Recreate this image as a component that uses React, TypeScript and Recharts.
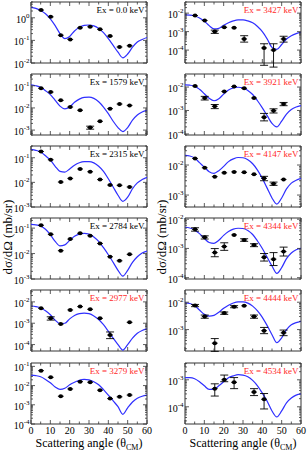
import React from 'react';
import { ComposedChart, Line, Scatter, XAxis, YAxis, ErrorBar, ReferenceArea } from 'recharts';

// angles (deg, CM) at which the DWBA curves are sampled
const CURVE_X = [0, 2.5, 5, 7.5, 10, 12.5, 15, 17.5, 20, 22.5, 25, 27.5, 30, 32.5, 35, 37.5, 40, 42.5, 45, 47.5, 50, 52.5, 55, 57.5, 60];
// measured angles
const ANGLES = [5.2, 10.2, 15.4, 20.3, 25.4, 30.6, 35.7, 40.9, 45.8, 51.0];
const X_ERR = 1.5;
const X_TICKS = [0, 5, 10, 15, 20, 25, 30, 35, 40, 45, 50, 55, 60];

// Ex = 0.0 keV
const curve0 = [2.9, 2.6, 2.1, 1.5, 0.9, 0.45, 0.2, 0.12, 0.15, 0.26, 0.38, 0.46, 0.48, 0.44, 0.34, 0.22, 0.12, 0.06, 0.03, 0.017, 0.025, 0.05, 0.085, 0.11, 0.135];
const pts0 = [2.2, 1.1, 0.17, 0.11, 0.36, 0.4, 0.31, 0.155, 0.051, 0.058];
const err0 = [null, null, null, null, null, null, null, null, null, null];

// Ex = 1579 keV
const curve1 = [0.11, 0.1, 0.085, 0.06, 0.04, 0.022, 0.012, 0.009, 0.011, 0.018, 0.025, 0.03, 0.031, 0.027, 0.019, 0.011, 0.0055, 0.0025, 0.0013, 0.00085, 0.0013, 0.0028, 0.0048, 0.0065, 0.0077];
const pts1 = [0.077, 0.052, 0.022, 0.011, 0.0079, 0.0013, 0.0025, 0.0093, 0.015, 0.013];
const err1 = [null, null, null, null, null, [0.0002, 0.0002], null, null, null, null];

// Ex = 2315 keV
const curve2 = [0.22, 0.2, 0.17, 0.12, 0.08, 0.045, 0.028, 0.026, 0.035, 0.05, 0.063, 0.07, 0.07, 0.062, 0.045, 0.028, 0.014, 0.0065, 0.003, 0.0017, 0.0025, 0.0055, 0.0095, 0.013, 0.016];
const pts2 = [0.18, 0.083, 0.0103, 0.0145, 0.035, 0.027, 0.013, 0.0078, 0.0076, 0.0065];
const err2 = [null, null, null, null, null, null, null, null, null, null];

// Ex = 2784 keV
const curve3 = [0.14, 0.135, 0.12, 0.09, 0.055, 0.03, 0.02, 0.022, 0.033, 0.048, 0.058, 0.062, 0.058, 0.045, 0.03, 0.017, 0.009, 0.0045, 0.0022, 0.0013, 0.0022, 0.0045, 0.0075, 0.0105, 0.0126];
const pts3 = [0.13, 0.057, 0.013, 0.037, 0.063, 0.05, 0.025, 0.0075, 0.0052, 0.0093];
const err3 = [null, null, null, null, null, null, null, null, null, null];

// Ex = 2977 keV
const curve4 = [0.0064, 0.006, 0.0052, 0.0038, 0.0025, 0.0014, 0.00095, 0.001, 0.0016, 0.0023, 0.0028, 0.003, 0.0028, 0.0022, 0.0015, 0.00085, 0.00042, 0.0002, 0.0001, 0.000055, 0.0001, 0.0002, 0.00034, 0.00046, 0.00054];
const pts4 = [0.005, 0.0017, 0.00091, 0.0042, 0.006, 0.0045, 0.0017, 0.00028, null, 0.0011];
const err4 = [null, [0.0003, 0.0003], null, null, null, null, null, [0.00009, 0.00011], null, null];

// Ex = 3279 keV
const curve5 = [0.035, 0.033, 0.029, 0.021, 0.014, 0.0085, 0.0063, 0.0072, 0.011, 0.015, 0.019, 0.021, 0.02, 0.016, 0.011, 0.0062, 0.0032, 0.0016, 0.0008, 0.00032, 0.0007, 0.0014, 0.0022, 0.0028, 0.0032];
const pts5 = [0.06, 0.027, 0.0028, 0.0067, 0.016, 0.015, 0.0058, 0.0021, 0.0026, 0.0032];
const err5 = [null, null, null, null, null, null, null, null, null, null];

// Ex = 3427 keV
const curve6 = [0.008, 0.0078, 0.007, 0.0055, 0.0037, 0.0021, 0.0014, 0.0015, 0.0022, 0.003, 0.0038, 0.0043, 0.0043, 0.0038, 0.003, 0.0019, 0.001, 0.0004, 0.00014, 0.00011, 0.0002, 0.0004, 0.0006, 0.00078, 0.0009];
const pts6 = [0.0074, 0.004, 0.001, 0.0017, 0.0016, 0.0004, null, 0.00013, 0.0001, 0.0004];
const err6 = [null, null, [0.0002, 0.0002], null, null, [0.00013, 0.0002], null, [0.000115, 0.00009], [0.000088, 0.00012], [0.00013, 0.00016]];

// Ex = 3921 keV
const curve7 = [0.0123, 0.012, 0.011, 0.008, 0.0052, 0.0033, 0.0026, 0.0032, 0.005, 0.0074, 0.0092, 0.0098, 0.0092, 0.0072, 0.0048, 0.0026, 0.0013, 0.0006, 0.00028, 0.0002, 0.00035, 0.0007, 0.0011, 0.0014, 0.0016];
const pts7 = [0.011, 0.0034, 0.0015, 0.0065, 0.0105, 0.0089, 0.0034, 0.00052, 0.00098, 0.0019];
const err7 = [null, [0.0006, 0.0006], [0.0003, 0.0003], null, null, null, null, [0.00016, 0.00023], [0.0002, 0.0002], [0.0003, 0.0003]];

// Ex = 4147 keV
const curve8 = [0.021, 0.02, 0.017, 0.012, 0.0085, 0.006, 0.0053, 0.0065, 0.009, 0.013, 0.016, 0.0178, 0.0175, 0.015, 0.011, 0.0068, 0.0036, 0.0017, 0.0008, 0.0005, 0.0008, 0.0016, 0.0025, 0.0031, 0.0036];
const pts8 = [0.0166, 0.0081, 0.0041, 0.0055, 0.0059, 0.0057, 0.0049, 0.0036, 0.0024, 0.0033];
const err8 = [null, null, null, null, null, null, null, [0.0006, 0.0006], [0.0003, 0.0003], null];

// Ex = 4344 keV
const curve9 = [0.0053, 0.005, 0.0043, 0.0032, 0.0022, 0.0016, 0.0015, 0.0019, 0.0028, 0.0038, 0.0046, 0.0049, 0.0048, 0.0041, 0.003, 0.0018, 0.001, 0.0005, 0.00025, 0.00014, 0.00022, 0.00045, 0.0007, 0.0009, 0.001];
const pts9 = [0.0045, 0.0024, 0.00072, 0.00116, 0.0029, 0.00195, 0.0013, 0.0005, 0.00043, 0.00078];
const err9 = [[0.0006, 0.0006], [0.0003, 0.0003], [0.0002, 0.00027], [0.0003, 0.0004], null, [0.0002, 0.0002], [0.00015, 0.00015], [0.00013, 0.00017], [0.00017, 0.00029], [0.00023, 0.00033]];

// Ex = 4444 keV
const curve10 = [0.0095, 0.009, 0.0075, 0.0052, 0.0036, 0.0031, 0.0033, 0.0043, 0.006, 0.0078, 0.0094, 0.0103, 0.0103, 0.0093, 0.0072, 0.0048, 0.0028, 0.0014, 0.00065, 0.00033, 0.0005, 0.001, 0.0015, 0.0018, 0.002];
const pts10 = [0.0076, 0.003, 0.00032, 0.004, 0.0069, 0.0074, 0.003, 0.00091, null, 0.00076];
const err10 = [[0.0007, 0.0007], [0.0004, 0.0004], [0.00016, 0.00015], [0.0004, 0.0004], [0.0006, 0.0006], null, [0.0004, 0.0004], [0.0002, 0.00029], null, [0.00016, 0.0002]];

// Ex = 4534 keV
const curve11 = [0.0012, 0.0012, 0.0011, 0.00085, 0.0006, 0.00044, 0.00045, 0.0006, 0.00085, 0.0012, 0.0014, 0.00155, 0.0015, 0.0013, 0.00095, 0.0006, 0.00032, 0.00016, 0.00007, 0.000042, 0.00007, 0.00014, 0.00021, 0.00027, 0.0003];
const pts11 = [null, null, 0.00047, 0.001, 0.00081, null, 0.00035, 0.00019, null, null];
const err11 = [null, null, [0.00022, 0.00024], [0.00015, 0.0005], [0.00034, 0.0004], null, [0.00009, 0.00012], [0.000107, 0.00012], null, null];

const PANELS = [
  { ex: '0.0', red: false, domain: [0.01, 5], curve: curve0, pts: pts0, err: err0 },
  { ex: '1579', red: false, domain: [6e-4, 0.34], curve: curve1, pts: pts1, err: err1 },
  { ex: '2315', red: false, domain: [1e-3, 0.3], curve: curve2, pts: pts2, err: err2 },
  { ex: '2784', red: false, domain: [1e-3, 0.25], curve: curve3, pts: pts3, err: err3 },
  { ex: '2977', red: true, domain: [5e-5, 0.036], curve: curve4, pts: pts4, err: err4 },
  { ex: '3279', red: true, domain: [1e-4, 0.15], curve: curve5, pts: pts5, err: err5 },
  { ex: '3427', red: true, domain: [2e-5, 0.04], curve: curve6, pts: pts6, err: err6 },
  { ex: '3921', red: true, domain: [9e-5, 0.036], curve: curve7, pts: pts7, err: err7 },
  { ex: '4147', red: true, domain: [4e-4, 0.043], curve: curve8, pts: pts8, err: err8 },
  { ex: '4344', red: true, domain: [9e-5, 0.011], curve: curve9, pts: pts9, err: err9 },
  { ex: '4444', red: true, domain: [1.65e-4, 0.028], curve: curve10, pts: pts10, err: err10 },
  { ex: '4534', red: true, domain: [2.3e-5, 0.0042], curve: curve11, pts: pts11, err: err11 },
];

// layout
const COL_X = [31, 185];
const ROW_Y = [2, 74, 146, 218, 290, 363];
const PW = 116;
const PH = 61;
const AXIS_W = 31;
const PAD = 6;
const FONT = '"Liberation Serif", "Times New Roman", serif';
const RED = '#ff2a2a';
const BLUE = '#2f2fff';
const FRAME = '#333';

function logTicks(lo: number, hi: number) {
  const out: number[] = [];
  for (let e = Math.floor(Math.log10(lo)); e <= Math.ceil(Math.log10(hi)); e++) {
    for (let d = 1; d <= 9; d++) {
      const v = d * Math.pow(10, e);
      if (v >= lo * 0.999 && v <= hi * 1.001) out.push(v);
    }
  }
  return out;
}

function YTick(props: any) {
  const { x, y, payload } = props;
  const lg = Math.log10(payload.value);
  const e = Math.round(lg);
  const major = Math.abs(lg - e) < 1e-6;
  const len = major ? 4 : 2;
  return (
    <g>
      <line x1={x} x2={x + len} y1={y} y2={y} stroke={FRAME} strokeWidth={0.8} />
      <line x1={x + PW - len} x2={x + PW} y1={y} y2={y} stroke={FRAME} strokeWidth={0.8} />
      {major && (
        <text x={x - 1.5} y={y + 5} textAnchor="end" fontSize={10} fill="#000" fontFamily={FONT}>
          10<tspan dy={-5} fontSize={7}>{String(e)}</tspan>
        </text>
      )}
    </g>
  );
}

function makeXTick(showLabels: boolean) {
  return (props: any) => {
    const { x, y, payload } = props;
    const v = payload.value;
    const major = v % 10 === 0;
    const len = major ? 4 : 2.5;
    return (
      <g>
        <line x1={x} x2={x} y1={y} y2={y - len} stroke={FRAME} strokeWidth={0.8} />
        <line x1={x} x2={x} y1={y - PH} y2={y - PH + len} stroke={FRAME} strokeWidth={0.8} />
        {showLabels && major && (
          <text x={x} y={y + 9.5} textAnchor="middle" fontSize={10} fill="#000" fontFamily={FONT}>
            {v}
          </text>
        )}
      </g>
    );
  };
}

const Dot = (props: any) => {
  const { cx, cy } = props;
  if (cx == null || cy == null) return null;
  return <ellipse cx={cx} cy={cy} rx={2.3} ry={2} fill="#000" />;
};

function Panel({ p, col, row }: { p: any; col: number; row: number }) {
  const bottom = row === ROW_Y.length - 1;
  const xh = bottom ? 16 : 9;
  const [lo, hi] = p.domain;
  const curveData = CURVE_X.map((x, i) => ({ x, y: p.curve[i] }));
  const ptData = ANGLES.map((x, i) => ({ x, y: p.pts[i], ex: X_ERR, ey: p.err[i] })).filter((d) => d.y != null);
  return (
    <div style={{ position: 'absolute', left: COL_X[col] - AXIS_W, top: ROW_Y[row] - PAD }}>
      <ComposedChart
        width={AXIS_W + PW + PAD}
        height={PAD + PH + xh}
        margin={{ top: PAD, right: PAD, bottom: 0, left: 0 }}
      >
        <XAxis
          type="number"
          dataKey="x"
          domain={[0, 60]}
          ticks={X_TICKS}
          interval={0}
          allowDataOverflow
          axisLine={false}
          tickLine={false}
          tickSize={0}
          tickMargin={0}
          height={xh}
          tick={makeXTick(bottom)}
        />
        <YAxis
          type="number"
          scale="log"
          domain={[lo, hi]}
          ticks={logTicks(lo, hi)}
          interval={0}
          allowDataOverflow
          axisLine={false}
          tickLine={false}
          tickSize={0}
          tickMargin={0}
          width={AXIS_W}
          tick={YTick}
        />
        <ReferenceArea x1={0} x2={60} y1={lo} y2={hi} fill="none" stroke={FRAME} strokeWidth={1} ifOverflow="visible" />
        <Line
          data={curveData}
          dataKey="y"
          type="monotone"
          stroke={BLUE}
          strokeWidth={1.2}
          dot={false}
          isAnimationActive={false}
        />
        <Scatter data={ptData} dataKey="y" fill="#000" shape={Dot} isAnimationActive={false}>
          <ErrorBar dataKey="ex" direction="x" width={0} stroke="#000" strokeWidth={0.9} />
          <ErrorBar dataKey="ey" direction="y" width={4} stroke="#000" strokeWidth={0.9} />
        </Scatter>
      </ComposedChart>
    </div>
  );
}

export default function App() {
  return (
    <div style={{ position: 'absolute', left: 0, top: 0, width: 308, height: 453, background: '#fff', fontFamily: FONT }}>
      {PANELS.map((p, i) => (
        <Panel key={p.ex} p={p} col={Math.floor(i / 6)} row={i % 6} />
      ))}
      <svg width={308} height={453} style={{ position: 'absolute', left: 0, top: 0, pointerEvents: 'none' }}>
        {PANELS.map((p, i) => {
          const col = Math.floor(i / 6);
          const row = i % 6;
          return (
            <text
              key={p.ex}
              x={COL_X[col] + PW - 2.5}
              y={ROW_Y[row] + 10.5}
              textAnchor="end"
              fontSize={9}
              fill={p.red ? RED : '#000'}
              fontFamily={FONT}
            >
              {`Ex = ${p.ex} keV`}
            </text>
          );
        })}
        {COL_X.map((cx) => (
          <g key={cx}>
            <text
              x={cx - 24}
              y={237}
              transform={`rotate(-90, ${cx - 24}, 237)`}
              textAnchor="middle"
              dominantBaseline="central"
              fontSize={13}
              fill="#000"
              fontFamily={FONT}
            >
              dσ/dΩ (mb/sr)
            </text>
            <text x={cx + PW / 2} y={447} textAnchor="middle" fontSize={12} fill="#000" fontFamily={FONT}>
              Scattering angle (θ<tspan dy={2.5} fontSize={8}>CM</tspan><tspan dy={-2.5}>)</tspan>
            </text>
          </g>
        ))}
      </svg>
    </div>
  );
}
